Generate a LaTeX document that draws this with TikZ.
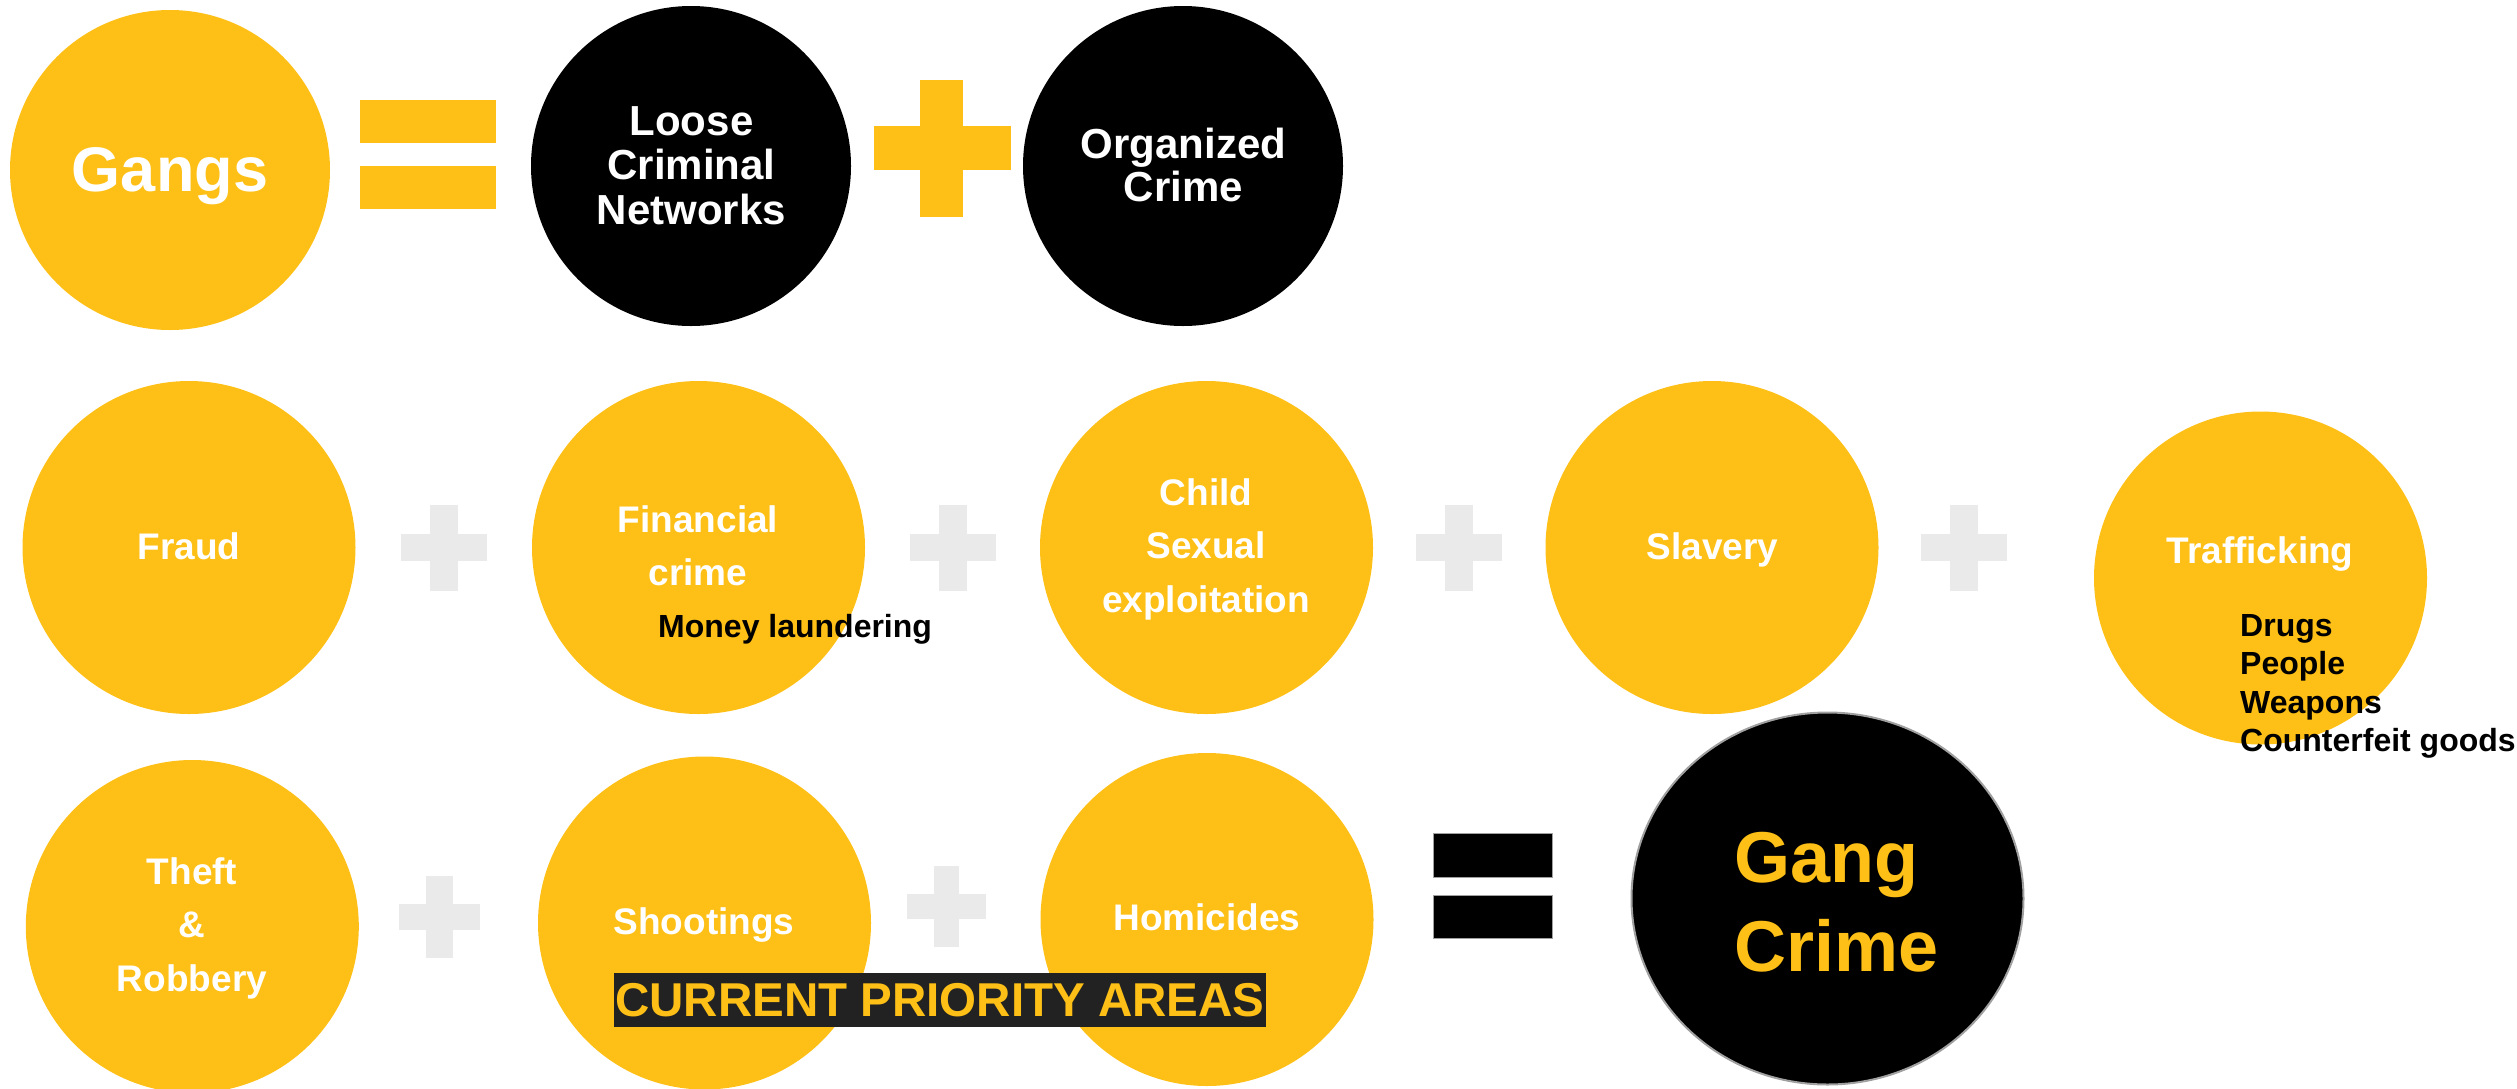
\documentclass[tikz,border=0pt]{standalone}
\usepackage{fontspec}
\setmainfont{Liberation Sans}
\usetikzlibrary{shapes.geometric}
\definecolor{gold}{RGB}{254,192,22}
\definecolor{plusgrey}{RGB}{234,234,234}
\definecolor{boxgrey}{RGB}{34,34,34}
\definecolor{rimgrey}{RGB}{160,160,160}
\newcommand{\fsz}[2]{\fontsize{#1}{#2}\selectfont\bfseries}
\begin{document}
\begin{tikzpicture}[x=1pt,y=-1pt,
  bub/.style={circle, inner sep=0, minimum size=333pt, fill=gold},
  bigbub/.style={circle, inner sep=0, minimum size=320pt},
  lbl/.style={inner sep=0, anchor=base, text=white},
  sub/.style={inner sep=0, anchor=base west, text=black, font=\fsz{32}{38.6}},
  body/.style={font=\fsz{37}{53.5}}]
\useasboundingbox (0,0) rectangle (2517,1088);

% ---------- row 1 ----------
\node[bigbub, fill=gold] (gangs) at (170,170) {};
\node[lbl, font=\fsz{63}{70}] (gangsT) at (170,191.5) {Gangs};
\fill[gold] (360,100) rectangle (496,143);
\fill[gold] (360,166) rectangle (496,209);
\node[bigbub, fill=black] (loose) at (691,166) {};
\node[lbl, font=\fsz{42}{44.7}] (looseT) at (691.5,135)
  {\begin{tabular}[t]{@{}c@{}}Loose\\Criminal\\Networks\end{tabular}};
\fill[gold] (920,80) rectangle (963,217);
\fill[gold] (874,126) rectangle (1011,170);
\node[bigbub, fill=black] (org) at (1183,166) {};
\node[lbl, font=\fsz{42}{43.7}] (orgT) at (1183.5,158)
  {\begin{tabular}[t]{@{}c@{}}Organized\\Crime\end{tabular}};

% ---------- row 2 ----------
\node[bub] (fraud) at (189,547.5) {};
\node[lbl, body] (fraudT) at (189,559) {Fraud};
\fill[plusgrey] (429.5,504.5) rectangle (457.5,590.5);
\fill[plusgrey] (400.5,534) rectangle (486.5,561);
\node[bub] (fin) at (698.5,547.5) {};
\node[lbl, body] (finT) at (698,532)
  {\begin{tabular}[t]{@{}c@{}}Financial\\crime\end{tabular}};
\node[sub, font=\fsz{32}{38}] (money) at (658,637) {Money laundering};
\fill[plusgrey] (938.5,504.5) rectangle (966.5,590.5);
\fill[plusgrey] (909.5,534) rectangle (995.5,561);
\node[bub] (child) at (1206.5,547.5) {};
\node[lbl, body] (childT) at (1206,505)
  {\begin{tabular}[t]{@{}c@{}}Child\\Sexual\\exploitation\end{tabular}};
\fill[plusgrey] (1445,504.5) rectangle (1473,590.5);
\fill[plusgrey] (1416,534) rectangle (1502,561);
\node[bub] (slav) at (1712,547.5) {};
\node[lbl, body] (slavT) at (1712.5,559) {Slavery};
\fill[plusgrey] (1950,504.5) rectangle (1978,590.5);
\fill[plusgrey] (1921,534) rectangle (2007,561);
\node[bub] (traf) at (2260.5,578) {};
\node[lbl, body] (trafT) at (2260,563.3) {Trafficking};
\node[sub] (trafL) at (2240,636)
  {\begin{tabular}[t]{@{}l@{}}Drugs\\People\\Weapons\\Counterfeit goods\end{tabular}};

% ---------- row 3 ----------
\node[bub] (theft) at (192.3,926.5) {};
\node[lbl, body] (theftT) at (192,884)
  {\begin{tabular}[t]{@{}c@{}}Theft\\\&\\Robbery\end{tabular}};
\fill[plusgrey] (426,876) rectangle (453,958);
\fill[plusgrey] (399,904) rectangle (480,930);
\node[bub] (shoot) at (704.5,923) {};
\node[lbl, body] (shootT) at (704,934) {Shootings};
\fill[plusgrey] (933.5,866) rectangle (958.5,947);
\fill[plusgrey] (906.5,894) rectangle (985.5,919);
\node[bub] (homi) at (1207,919.5) {};
\node[lbl, body] (homiT) at (1207,930.7) {Homicides};
\node[fill=boxgrey, inner sep=0, minimum width=652pt, minimum height=54pt,
      text=gold, font=\fsz{47.5}{55}] (prio) at (940,1000) {CURRENT PRIORITY AREAS};

\fill[black, draw=rimgrey, line width=1pt] (1433,833) rectangle (1552,877);
\fill[black, draw=rimgrey, line width=1pt] (1433,895) rectangle (1552,938);
\node[ellipse, fill=black, draw=rimgrey, line width=2pt, inner sep=0,
      minimum width=392pt, minimum height=372pt] (gc) at (1827.5,898.5) {};
\node[inner sep=0, anchor=base west, text=gold, font=\fsz{72}{89.6}] (gcT) at (1734,882)
  {\begin{tabular}[t]{@{}l@{}}Gang\\Crime\end{tabular}};
\end{tikzpicture}
\end{document}
